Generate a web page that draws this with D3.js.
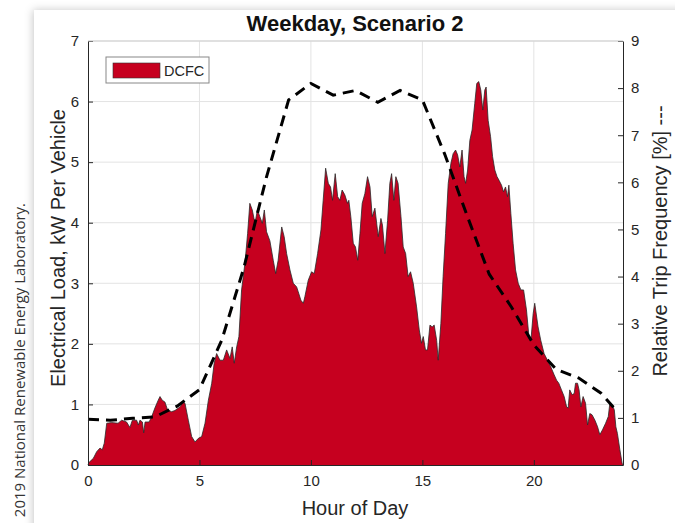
<!DOCTYPE html>
<html>
<head>
<meta charset="UTF-8">
<title>Weekday, Scenario 2</title>
<style>
  body { margin: 0; background: #fff; }
  text { font-family: "Liberation Sans", Arial, sans-serif; fill: #262626; }
</style>
</head>
<body>
<script src="https://d3js.org/d3.v7.min.js"></script>
<script>
// canvas
var width = 675, height = 523;

// DCFC load, kW per vehicle (hour of day)
var loadHours = [0, 0.04, 0.24, 0.39, 0.54, 0.64, 0.73, 0.84, 1.06, 1.35, 1.51, 1.73, 1.88, 1.99, 2.18, 2.26, 2.33, 2.44, 2.5, 2.56,
  2.74, 2.86, 3.0, 3.15, 3.23, 3.33, 3.45, 3.57, 3.75, 3.9, 4.13, 4.27, 4.35, 4.5, 4.65, 4.8, 4.95, 5.1, 5.25, 5.4,
  5.55, 5.66, 5.77, 5.92, 6.07, 6.22, 6.37, 6.47, 6.56, 6.67, 6.77, 6.89, 7.04, 7.16, 7.26, 7.37, 7.49, 7.6, 7.71, 7.82,
  7.91, 8.01, 8.16, 8.31, 8.42, 8.53, 8.69, 8.8, 8.91, 9.06, 9.21, 9.36, 9.43, 9.55, 9.66, 9.73, 9.88, 10.03, 10.15, 10.3,
  10.45, 10.55, 10.66, 10.78, 10.88, 10.97, 11.09, 11.2, 11.3, 11.4, 11.52, 11.64, 11.7, 11.79, 11.9, 12.0, 12.1, 12.2, 12.3, 12.42,
  12.54, 12.65, 12.75, 12.87, 13.02, 13.14, 13.21, 13.32, 13.44, 13.54, 13.62, 13.72, 13.81, 13.91, 14.04, 14.14, 14.25, 14.36, 14.47, 14.59,
  14.74, 14.86, 14.96, 15.04, 15.14, 15.23, 15.34, 15.44, 15.53, 15.64, 15.71, 15.83, 15.93, 16.04, 16.16, 16.28, 16.38, 16.49, 16.58, 16.68,
  16.78, 16.87, 16.94, 17.03, 17.13, 17.23, 17.35, 17.44, 17.53, 17.62, 17.71, 17.8, 17.86, 17.95, 18.06, 18.15, 18.25, 18.35, 18.44, 18.55,
  18.64, 18.73, 18.82, 18.88, 18.97, 19.07, 19.18, 19.3, 19.42, 19.54, 19.67, 19.78, 19.87, 19.97, 20.04, 20.19, 20.31, 20.46, 20.61, 20.76,
  20.91, 21.02, 21.12, 21.24, 21.36, 21.47, 21.54, 21.61, 21.72, 21.81, 21.87, 21.96, 22.03, 22.11, 22.21, 22.32, 22.41, 22.51, 22.61, 22.74,
  22.86, 22.96, 23.08, 23.22, 23.34, 23.41, 23.52, 23.61, 23.68, 23.75, 23.86, 23.96, 24];
var loadKw = [0, 0.04, 0.11, 0.22, 0.28, 0.25, 0.36, 0.69, 0.70, 0.69, 0.74, 0.71, 0.62, 0.74, 0.74, 0.66, 0.74, 0.71, 0.53, 0.71,
  0.71, 0.8, 0.94, 1.07, 1.13, 1.07, 1.04, 0.91, 0.88, 0.9, 0.96, 1.04, 1.02, 0.74, 0.47, 0.38, 0.44, 0.47, 0.69, 1.07,
  1.35, 1.68, 1.84, 1.73, 1.73, 1.9, 1.76, 1.95, 1.68, 1.95, 2.12, 2.89, 3.33, 3.82, 4.32, 4.21, 3.99, 4.21, 4.1, 3.99,
  4.21, 3.85, 3.7, 3.38, 3.16, 3.38, 3.93, 3.77, 3.49, 3.22, 3.0, 2.94, 2.86, 2.72, 2.67, 2.78, 3.05, 3.19, 3.16, 3.49,
  3.88, 4.37, 4.9, 4.65, 4.59, 4.37, 4.81, 4.43, 4.37, 4.54, 4.46, 4.32, 4.37, 4.1, 3.66, 3.6, 3.38, 3.82, 4.32, 4.48,
  4.76, 4.59, 4.1, 4.24, 3.77, 4.07, 3.96, 3.49, 4.04, 4.65, 4.81, 4.37, 4.76, 4.65, 4.1, 3.6, 3.49, 3.11, 3.19, 3.0,
  2.61, 2.23, 2.01, 2.12, 1.9, 1.9, 2.31, 2.28, 2.31, 2.06, 1.73, 2.34, 3.11, 3.82, 4.65, 4.98, 5.14, 5.2, 5.12, 4.92,
  5.2, 4.76, 4.65, 4.87, 5.36, 5.53, 5.97, 6.3, 6.33, 6.19, 5.86, 6.19, 6.24, 5.69, 5.42, 5.09, 4.87, 4.76, 4.7, 4.62,
  4.51, 4.59, 4.43, 4.62, 4.15, 3.66, 3.22, 3.0, 2.89, 2.89, 2.56, 2.12, 2.06, 2.5, 2.67, 2.28, 2.06, 1.84, 1.73, 1.62,
  1.49, 1.4, 1.35, 1.24, 1.13, 0.96, 0.94, 1.24, 1.16, 1.18, 1.35, 1.35, 1.24, 0.96, 1.13, 1.02, 0.66, 0.85, 0.83, 0.74,
  0.63, 0.5, 0.58, 0.69, 0.8, 1.02, 0.99, 0.91, 0.63, 0.52, 0.25, 0.03, 0];

// relative trip frequency, % (right axis)
var tripHours = [0, 1, 2, 3, 4, 5, 6, 7, 8, 9, 10, 11, 12, 13, 14, 15, 16, 17, 18, 19, 20, 21, 22, 23, 23.75];
var tripFreq = [0.97, 0.95, 0.99, 1.02, 1.25, 1.6, 2.65, 4.2, 6.1, 7.75, 8.1, 7.85, 7.95, 7.7, 7.95, 7.75, 6.6, 5.3, 4.05, 3.35, 2.55, 2.03, 1.85, 1.53, 1.13];

// ticks
var xTicks = [0, 5, 10, 15, 20];
var yLeftTicks = [0, 1, 2, 3, 4, 5, 6, 7];
var yRightTicks = [0, 1, 2, 3, 4, 5, 6, 7, 8, 9];

var red = "#c6001f";
var axisColor = "#262626";
var gridColor = "#e3e3e3";

var svg = d3.select("body").append("svg")
  .attr("width", width)
  .attr("height", height);

// panel with shadow
var defs = svg.append("defs");
var filt = defs.append("filter").attr("id", "shadow")
  .attr("x", "-10%").attr("y", "-10%").attr("width", "120%").attr("height", "120%");
filt.append("feDropShadow")
  .attr("dx", -1).attr("dy", 0).attr("stdDeviation", 4)
  .attr("flood-color", "#000").attr("flood-opacity", 0.22);
svg.append("rect")
  .attr("x", 34).attr("y", 10).attr("width", 680).attr("height", 540)
  .attr("fill", "#fff")
  .attr("filter", "url(#shadow)");

// copyright note
svg.append("text")
  .attr("transform", "translate(25,203) rotate(-90)")
  .attr("text-anchor", "end")
  .style("font-family", "'Open Sans', sans-serif")
  .style("font-size", "15px")
  .style("fill", "#333")
  .text("2019 National Renewable Energy Laboratory.");

// scales
var x = d3.scaleLinear().domain([0, 24]).range([88, 623]);
var yL = d3.scaleLinear().domain([0, 7]).range([465, 41]);
var yR = d3.scaleLinear().domain([0, 9]).range([465, 41]);

// grid
svg.append("g").selectAll("line").data(xTicks.slice(1))
  .enter().append("line")
  .attr("x1", d => x(d)).attr("x2", d => x(d))
  .attr("y1", yL(0)).attr("y2", yL(7))
  .attr("stroke", gridColor).attr("stroke-width", 1);
svg.append("g").selectAll("line").data(yLeftTicks.slice(1))
  .enter().append("line")
  .attr("x1", x(0)).attr("x2", x(24))
  .attr("y1", d => yL(d)).attr("y2", d => yL(d))
  .attr("stroke", gridColor).attr("stroke-width", 1);

// area
var pts = loadHours.map((h, i) => [h, loadKw[i]]);
var area = d3.area().x(d => x(d[0])).y0(yL(0)).y1(d => yL(d[1]));
svg.append("path").datum(pts)
  .attr("d", area)
  .attr("fill", red);
svg.append("path").datum(pts)
  .attr("d", d3.line().x(d => x(d[0])).y(d => yL(d[1])))
  .attr("fill", "none")
  .attr("stroke", "#2a2a2a")
  .attr("stroke-width", 0.8);

// trip frequency dashed line
var tpts = tripHours.map((h, i) => [h, tripFreq[i]]);
svg.append("path").datum(tpts)
  .attr("d", d3.line().x(d => x(d[0])).y(d => yR(d[1])))
  .attr("fill", "none")
  .attr("stroke", "#000")
  .attr("stroke-width", 3)
  .attr("stroke-dasharray", "11,7");

// axes
var fmt = d3.format("d");
var axB = svg.append("g").attr("transform", "translate(0," + yL(0) + ")")
  .call(d3.axisBottom(x).tickValues(xTicks).tickFormat(fmt).tickSizeInner(-5).tickSizeOuter(0).tickPadding(10));
var axL = svg.append("g").attr("transform", "translate(" + x(0) + ",0)")
  .call(d3.axisLeft(yL).tickValues(yLeftTicks).tickFormat(fmt).tickSizeInner(-5).tickSizeOuter(0).tickPadding(9));
var axR = svg.append("g").attr("transform", "translate(" + x(24) + ",0)")
  .call(d3.axisRight(yR).tickValues(yRightTicks).tickFormat(fmt).tickSizeInner(-5).tickSizeOuter(0).tickPadding(8));
[axB, axL, axR].forEach(function(a) {
  a.selectAll("path, line").attr("stroke", axisColor).attr("stroke-width", 1);
  a.selectAll("text").style("font-size", "15px").style("fill", axisColor)
    .style("font-family", "'Liberation Sans', Arial, sans-serif");
});
// top edge
svg.append("line")
  .attr("x1", x(0)).attr("x2", x(24)).attr("y1", yL(7)).attr("y2", yL(7))
  .attr("stroke", "#cfcfcf");

// title and labels
svg.append("text")
  .attr("x", 355).attr("y", 31)
  .attr("text-anchor", "middle")
  .style("font-size", "22px").style("font-weight", "bold")
  .style("fill", "#111")
  .text("Weekday, Scenario 2");
svg.append("text")
  .attr("x", 355).attr("y", 515)
  .attr("text-anchor", "middle")
  .style("font-size", "20px")
  .text("Hour of Day");
svg.append("text")
  .attr("transform", "translate(65,248) rotate(-90)")
  .attr("text-anchor", "middle")
  .style("font-size", "20px")
  .text("Electrical Load, kW Per Vehicle");
svg.append("text")
  .attr("transform", "translate(667,241) rotate(-90)")
  .attr("text-anchor", "middle")
  .style("font-size", "20px")
  .text("Relative Trip Frequency [%] ---");

// legend
var lg = svg.append("g");
lg.append("rect")
  .attr("x", 106).attr("y", 57).attr("width", 103).attr("height", 26)
  .attr("fill", "#fff").attr("stroke", "#888").attr("stroke-width", 1);
lg.append("rect")
  .attr("x", 113).attr("y", 63).attr("width", 47).attr("height", 15)
  .attr("fill", red).attr("stroke", "#333").attr("stroke-width", 0.6);
lg.append("text")
  .attr("x", 164).attr("y", 76)
  .style("font-size", "14.5px")
  .text("DCFC");
</script>
</body>
</html>
